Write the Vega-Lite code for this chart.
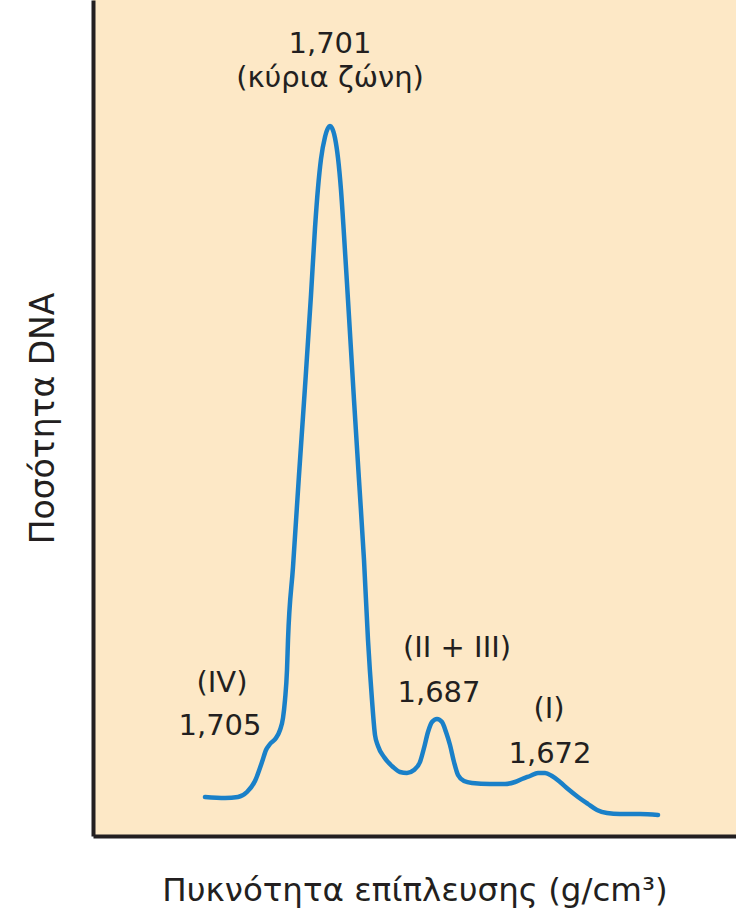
{
  "$schema": "https://vega.github.io/schema/vega-lite/v6.json",
  "width": 643,
  "height": 836,
  "autosize": {"type": "none"},
  "padding": {"left": 93, "top": 0, "right": 0, "bottom": 80},
  "background": "white",
  "config": {
    "view": {"fill": "#fde8c6", "stroke": null},
    "font": "DejaVu Sans"
  },
  "datasets": {
    "curve": [
      {"pos":112,"amt":39},{"pos":132,"amt":38},{"pos":145,"amt":39},{"pos":154,"amt":44},{"pos":162,"amt":55},
      {"pos":169,"amt":74},{"pos":173,"amt":86},{"pos":177,"amt":92},{"pos":183,"amt":98},{"pos":187,"amt":106},
      {"pos":190,"amt":118},{"pos":192,"amt":136},{"pos":194,"amt":166},{"pos":195,"amt":196},{"pos":200,"amt":269},
      {"pos":206,"amt":361},{"pos":212,"amt":449},{"pos":218,"amt":541},{"pos":222,"amt":608},{"pos":225,"amt":648},
      {"pos":228,"amt":677},{"pos":232,"amt":699},{"pos":235,"amt":708},{"pos":237,"amt":710},{"pos":239,"amt":708},
      {"pos":242,"amt":698},{"pos":245,"amt":678},{"pos":248,"amt":646},{"pos":251,"amt":601},{"pos":255,"amt":536},
      {"pos":261,"amt":436},{"pos":266,"amt":356},{"pos":271,"amt":276},{"pos":275,"amt":196},{"pos":279,"amt":136},
      {"pos":282,"amt":101},{"pos":285,"amt":90},{"pos":291,"amt":79},{"pos":300,"amt":69},{"pos":307,"amt":64},
      {"pos":314,"amt":63},{"pos":321,"amt":66},{"pos":327,"amt":74},{"pos":331,"amt":88},{"pos":335,"amt":104},
      {"pos":339,"amt":114},{"pos":344,"amt":117},{"pos":349,"amt":114},{"pos":353,"amt":104},{"pos":357,"amt":91},
      {"pos":361,"amt":74},{"pos":365,"amt":61},{"pos":371,"amt":55},{"pos":379,"amt":53},{"pos":397,"amt":52},
      {"pos":412,"amt":52},{"pos":422,"amt":54},{"pos":429,"amt":57},{"pos":437,"amt":60},{"pos":445,"amt":63},
      {"pos":452,"amt":63},{"pos":459,"amt":60},{"pos":467,"amt":54},{"pos":475,"amt":47},{"pos":485,"amt":39},
      {"pos":495,"amt":32},{"pos":504,"amt":26},{"pos":514,"amt":23},{"pos":527,"amt":22},{"pos":547,"amt":22},
      {"pos":565,"amt":21}
    ],
    "labels": [
      {"pos":237,"amt":783,"label":"1,701"},
      {"pos":237,"amt":749,"label":"(κύρια ζώνη)"},
      {"pos":129,"amt":144,"label":"(IV)"},
      {"pos":127,"amt":101,"label":"1,705"},
      {"pos":364,"amt":179,"label":"(II + III)"},
      {"pos":346,"amt":134,"label":"1,687"},
      {"pos":456,"amt":118,"label":"(I)"},
      {"pos":457,"amt":73,"label":"1,672"}
    ]
  },
  "layer": [
    {
      "data": {"name": "curve"},
      "mark": {"type": "line", "interpolate": "monotone", "color": "#1a80c8", "strokeWidth": 4.5, "strokeCap": "round"},
      "encoding": {
        "x": {
          "field": "pos", "type": "quantitative",
          "scale": {"domain": [0, 643], "nice": false, "zero": false},
          "axis": {
            "title": "Πυκνότητα επίπλευσης (g/cm³)",
            "labels": false, "ticks": false, "grid": false,
            "domainColor": "#231f20", "domainWidth": 4,
            "titleFont": "DejaVu Sans", "titleFontSize": 32.5, "titleFontWeight": "normal",
            "titleColor": "#231f20", "titleBaseline": "alphabetic", "titlePadding": 64
          }
        },
        "y": {
          "field": "amt", "type": "quantitative",
          "scale": {"domain": [0, 836], "nice": false, "zero": false},
          "axis": {
            "title": "Ποσότητα DNA",
            "labels": false, "ticks": false, "grid": false,
            "domainColor": "#231f20", "domainWidth": 4,
            "titleFont": "DejaVu Sans", "titleFontSize": 33, "titleFontWeight": "normal",
            "titleColor": "#231f20", "titleBaseline": "alphabetic", "titlePadding": 40
          }
        }
      }
    },
    {
      "data": {"name": "labels"},
      "mark": {"type": "text", "align": "center", "baseline": "alphabetic", "font": "DejaVu Sans", "fontSize": 29, "color": "#231f20"},
      "encoding": {
        "x": {"field": "pos", "type": "quantitative"},
        "y": {"field": "amt", "type": "quantitative"},
        "text": {"field": "label", "type": "nominal"}
      }
    }
  ]
}
